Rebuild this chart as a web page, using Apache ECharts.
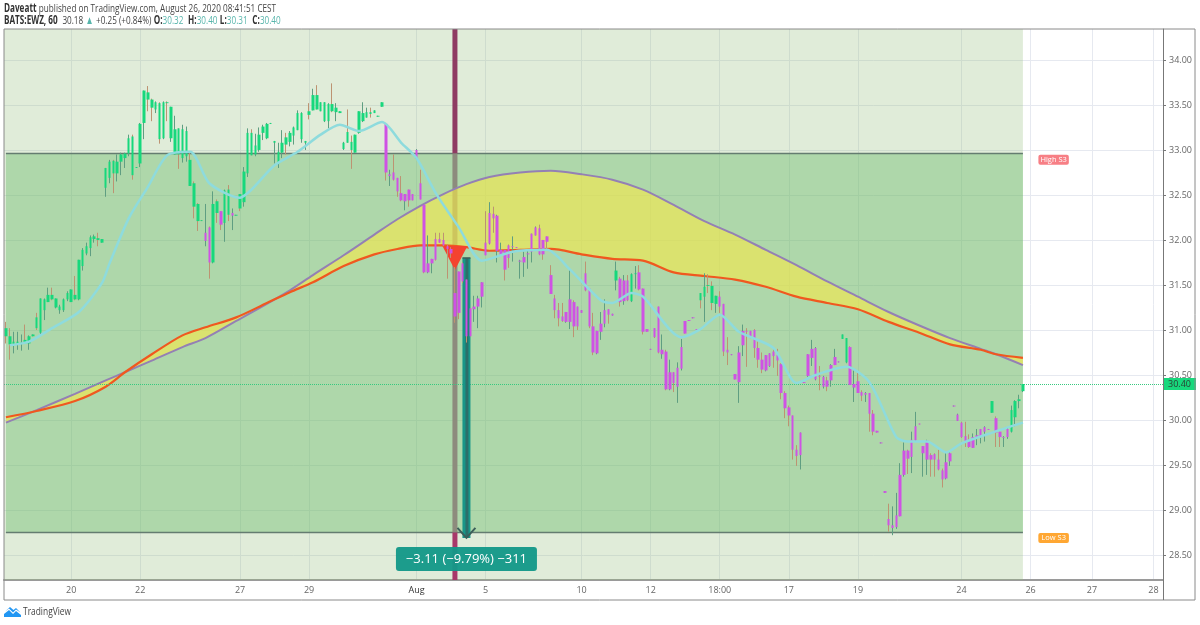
<!DOCTYPE html>
<html>
<head>
<meta charset="utf-8">
<style>
html, body { margin: 0; padding: 0; background: #fff; }
#main { width: 1200px; height: 625px; }
</style>
<script src="https://cdn.jsdelivr.net/npm/echarts@6/dist/echarts.min.js"></script>
</head>
<body>
<div id="main"></div>
<script>
// each row: open, close, low, high (a close under the open gets the tan wick)
var bars = [
[31.02,30.93,30.85,31.09],[30.93,30.84,30.67,31.02],[30.84,30.87,30.74,30.98],[30.84,30.87,30.78,30.98],[30.85,30.86,30.77,30.95],
[30.89,30.85,30.85,31.06],[30.85,30.93,30.78,30.94],[30.93,30.95,30.93,30.95],[31.14,31.02,31.0,31.19],[30.97,31.35,30.95,31.35],
[31.22,31.34,31.11,31.35],[31.31,31.39,31.31,31.47],[31.39,31.34,31.33,31.47],[31.25,31.35,31.24,31.35],[31.22,31.26,31.18,31.28],
[31.22,31.34,31.2,31.35],[31.34,31.41,31.32,31.43],[31.31,31.45,31.31,31.45],[31.39,31.34,31.33,31.6],[31.34,31.78,31.33,31.78],
[31.71,31.89,31.66,31.91],[31.85,31.93,31.83,31.97],[31.91,32.03,31.82,32.05],[32.01,32.04,31.97,32.06],[32.02,32.0,31.93,32.08],
[31.97,32.01,31.97,32.01],[32.58,32.8,32.48,32.8],[32.69,32.87,32.63,32.89],[32.88,32.74,32.52,32.89],[32.74,32.87,32.65,32.95],
[32.87,32.95,32.72,32.97],[32.91,32.96,32.8,32.97],[32.96,33.13,32.93,33.17],[33.15,32.72,32.67,33.17],[32.8,32.81,32.8,32.81],
[32.85,33.29,32.81,33.3],[33.3,33.66,33.12,33.66],[33.64,33.56,33.43,33.71],[33.56,33.47,33.32,33.57],[33.45,33.53,33.41,33.54],
[33.52,33.12,33.07,33.53],[33.13,33.53,33.12,33.54],[33.53,33.52,33.32,33.54],[33.13,33.48,33.09,33.48],[32.95,33.23,32.95,33.38],
[33.24,32.95,32.79,33.24],[32.91,33.23,32.86,33.28],[32.93,33.21,32.87,33.26],[32.89,32.6,32.6,32.97],[32.63,32.37,32.24,32.65],
[32.4,32.21,32.1,32.41],[32.22,32.21,32.21,32.22],[31.99,32.08,31.93,32.4],[32.14,31.75,31.57,32.15],[31.75,32.4,31.74,32.54],
[32.43,32.3,32.19,32.45],[32.32,32.17,32.11,32.32],[32.19,32.55,31.98,32.56],[32.56,32.28,32.21,32.61],[32.27,32.3,32.11,32.35],
[32.28,32.27,32.27,32.28],[32.51,32.35,32.32,32.51],[32.42,32.76,32.37,32.81],[32.74,33.19,32.7,33.24],[33.19,32.94,32.94,33.23],
[32.95,33.05,32.93,33.18],[33.0,33.17,32.98,33.25],[33.19,33.26,33.11,33.28],[33.13,33.29,33.12,33.3],[33.29,33.3,33.29,33.3],
[33.08,33.1,32.85,33.1],[32.85,32.98,32.8,33.08],[32.97,33.08,32.91,33.22],[33.14,33.06,32.95,33.19],[33.09,33.19,33.04,33.21],
[33.16,33.25,33.06,33.26],[33.22,33.41,33.22,33.44],[33.12,33.41,33.08,33.42],[33.08,33.1,33.0,33.1],[33.43,33.39,33.34,33.52],
[33.44,33.61,33.44,33.68],[33.61,33.45,33.45,33.72],[33.43,33.53,33.43,33.53],[33.32,33.53,33.31,33.53],[33.32,33.51,33.24,33.52],
[33.51,33.43,33.42,33.74],[33.42,33.47,33.32,33.52],[33.41,33.43,33.41,33.43],[33.01,33.08,33.0,33.09],[33.2,33.08,33.08,33.45],
[33.09,33.0,32.79,33.16],[32.97,33.17,32.97,33.17],[33.19,33.43,33.18,33.43],[33.32,33.41,33.31,33.53],[33.36,33.42,33.36,33.47],
[33.42,33.4,33.36,33.47],[33.41,33.44,33.41,33.44],[33.37,33.38,33.37,33.38],[33.48,33.53,33.48,33.53],[33.29,32.75,32.66,33.3],
[32.71,32.73,32.6,32.78],[32.75,32.67,32.66,32.95],[32.69,32.54,32.48,32.69],[32.52,32.44,32.43,32.71],[32.43,32.51,32.33,32.51],
[32.56,32.44,32.37,32.56],[32.51,32.44,32.44,32.51],[32.9,33.0,32.89,33.01],[32.63,32.45,32.45,32.78],[32.39,31.64,31.63,32.39],
[31.64,31.74,31.63,32.05],[31.74,31.79,31.63,31.79],[32.01,31.78,31.77,32.08],[32.01,31.97,31.97,32.08],[32.0,31.94,31.93,32.08],
[31.93,31.9,31.57,31.95],[31.9,31.85,31.8,31.92],[31.41,31.15,31.08,31.7],[31.65,31.19,31.12,31.65],[31.74,31.54,31.52,31.75],
[31.56,30.93,30.86,31.56],[31.24,30.93,30.93,31.24],[31.23,31.26,31.09,31.38],[31.26,31.35,31.02,31.38],[31.37,31.53,31.25,31.53],
[31.97,31.83,31.83,32.32],[31.96,32.3,31.95,32.42],[32.29,32.24,32.08,32.37],[31.88,32.27,31.75,32.28],[31.83,31.89,31.83,31.97],
[31.89,31.67,31.55,31.89],[31.94,31.8,31.69,31.95],[31.92,31.93,31.76,32.04],[31.92,31.91,31.91,31.92],[31.76,31.77,31.57,31.78],
[31.75,31.81,31.59,31.87],[31.84,31.85,31.68,31.89],[31.87,32.07,31.75,32.07],[32.05,32.14,32.05,32.15],[32.13,31.84,31.83,32.17],
[32.0,31.84,31.78,32.0],[32.04,31.98,31.89,32.04],[31.61,31.4,31.4,31.72],[31.35,31.22,31.13,31.39],[31.22,31.13,31.04,31.3],
[31.15,31.1,31.09,31.3],[31.09,31.2,31.08,31.2],[31.09,31.34,31.01,31.67],[31.31,31.04,30.92,31.33],[31.26,31.04,31.0,31.26],
[31.19,31.22,31.19,31.22],[31.63,31.44,31.43,31.76],[31.46,31.04,31.02,31.46],[31.04,30.75,30.72,31.19],[30.74,30.99,30.73,30.99],
[30.98,31.07,30.89,31.2],[31.07,31.22,31.03,31.34],[31.23,31.17,31.07,31.23],[31.16,31.18,31.16,31.18],[31.55,31.66,31.44,31.76],
[31.57,31.31,31.26,31.59],[31.32,31.55,31.28,31.61],[31.55,31.33,31.32,31.61],[31.32,31.62,31.31,31.63],[31.62,31.63,31.46,31.71],
[31.64,31.45,31.44,31.72],[31.46,30.98,30.95,31.46],[31.01,30.98,30.98,31.01],[30.78,30.79,30.78,30.79],[31.02,30.92,30.91,31.02],
[31.26,30.75,30.74,31.26],[30.73,30.78,30.68,30.95],[30.76,30.34,30.33,30.78],[30.34,30.53,30.33,30.67],[30.53,30.41,30.31,30.53],
[30.37,30.58,30.19,30.64],[30.57,30.81,30.55,30.9],[31.1,30.96,30.96,31.1],[31.11,31.1,31.1,31.11],[31.13,31.14,31.13,31.14],
[31.01,31.0,31.0,31.01],[31.41,31.33,31.24,31.41],[31.37,31.48,31.09,31.63],[31.5,31.49,31.41,31.62],[31.49,31.3,31.22,31.54],
[31.29,31.38,31.19,31.38],[31.37,31.26,31.19,31.43],[31.29,30.76,30.71,31.29],[30.78,30.75,30.61,30.92],[30.72,30.73,30.72,30.73],
[30.51,30.45,30.45,30.51],[30.42,30.75,30.19,30.82],[30.83,30.99,30.71,31.06],[30.99,30.98,30.59,31.02],[30.91,30.99,30.91,30.99],
[31.0,30.8,30.69,31.01],[30.8,30.67,30.58,30.87],[30.67,30.56,30.52,30.75],[30.55,30.72,30.54,30.72],[30.6,30.74,30.59,30.74],
[30.76,30.71,30.58,30.81],[30.72,30.66,30.49,30.79],[30.62,30.3,30.23,30.63],[30.3,30.13,30.02,30.32],[30.14,30.05,29.93,30.16],
[30.05,29.67,29.56,30.05],[29.67,29.6,29.49,29.72],[29.61,29.86,29.45,29.86],[30.42,30.41,30.41,30.42],[30.49,30.73,30.48,30.73],
[30.69,30.79,30.6,30.89],[30.45,30.8,30.44,30.81],[30.49,30.48,30.33,30.6],[30.37,30.48,30.35,30.49],[30.44,30.37,30.32,30.48],
[30.44,30.61,30.37,30.62],[30.61,30.7,30.61,30.79],[30.64,30.65,30.64,30.65],[30.9,30.95,30.9,30.95],[30.64,30.91,30.63,30.91],
[30.81,30.39,30.39,30.82],[30.36,30.4,30.2,30.55],[30.43,30.3,30.3,30.53],[30.31,30.27,30.21,30.33],[30.28,30.3,30.2,30.31],
[30.3,30.07,29.87,30.3],[30.07,29.87,29.83,30.11],[29.88,29.86,29.86,29.88],[29.74,29.75,29.74,29.75],[29.19,29.21,29.19,29.21],
[28.9,28.83,28.76,29.07],[28.8,28.83,28.72,29.04],[28.81,28.94,28.79,29.19],[28.93,29.39,28.93,29.52],[29.39,29.66,29.37,29.75],
[29.66,29.57,29.4,29.67],[29.59,29.78,29.41,29.87],[29.77,29.93,29.76,30.09],[29.96,29.95,29.95,29.96],[29.63,29.71,29.37,29.71],
[29.56,29.77,29.39,29.78],[29.61,29.56,29.37,29.63],[29.62,29.56,29.37,29.63],[29.56,29.45,29.44,29.67],[29.44,29.34,29.25,29.46],
[29.35,29.53,29.34,29.65],[29.54,29.63,29.49,29.64],[30.15,30.16,30.15,30.16],[29.99,30.06,29.99,30.07],[29.97,29.81,29.8,29.98],
[29.82,29.76,29.7,29.98],[29.78,29.7,29.69,29.84],[29.69,29.81,29.69,29.85],[29.8,29.83,29.72,29.9],[29.81,29.9,29.74,29.9],
[29.87,29.92,29.76,29.93],[29.9,29.89,29.89,29.9],[30.08,30.21,30.08,30.21],[30.02,29.86,29.7,30.04],[29.87,29.81,29.7,29.87],
[29.8,29.81,29.7,29.82],[29.81,29.9,29.79,29.91],[29.87,30.11,29.86,30.16],[30.03,30.21,29.93,30.22],[30.21,30.23,30.13,30.28],
[30.32,30.4,30.31,30.4]
];
// bars drawn magenta, everything else is green
var magentaBars = [52,53,56,59];
for (var m = 99; m <= 265; m++) {
	if ([159,163,164,181,182,183,184,185,218,219,257,262,263,264,265].indexOf(m) < 0) magentaBars.push(m);
}

var slotCount = 302;
var tickSlots = [17,35,61,79,107,125,150,168,186,204,222,249,267,283,299];
var tickTexts = ['20','22','27','29','Aug','5','10','12','18:00','17','19','24','26','27','28'];
var priceTicks = [28.5,29,29.5,30,30.5,31,31.5,32,32.5,33,33.5,34];

// the two slow curves, sampled at curveSlots
var curveSlots = [0,8,18,26,31,38,46,52,60,68,74,80,88,96,102,108,114,120,126,134,142,150,158,166,174,182,190,198,206,214,222,230,238,246,254,258,265];
var purpleCurve = [29.97,30.11,30.29,30.44,30.53,30.66,30.81,30.91,31.10,31.29,31.44,31.61,31.83,32.06,32.23,32.38,32.51,32.62,32.70,32.75,32.77,32.73,32.67,32.56,32.39,32.21,32.06,31.89,31.72,31.54,31.37,31.20,31.05,30.91,30.79,30.73,30.61];
var orangeCurve = [30.03,30.10,30.21,30.37,30.53,30.73,30.94,31.03,31.14,31.30,31.42,31.53,31.71,31.84,31.90,31.94,31.94,31.92,31.88,31.89,31.90,31.84,31.79,31.77,31.64,31.60,31.56,31.48,31.37,31.30,31.23,31.09,30.97,30.84,30.78,30.73,30.69];

var maSlots = [1,6,12,19,25,27,32,37,42,48,53,61,64,70,76,82,87,92,98,103,107,112,118,124,132,141,147,155,158,163,166,176,181,186,191,200,206,211,219,225,232,235,240,245,249,257,265];
var maLine = [30.83,30.87,31.02,31.20,31.52,31.74,32.24,32.59,32.94,32.98,32.63,32.47,32.56,32.83,32.98,33.17,33.28,33.21,33.31,33.08,32.91,32.52,32.14,31.77,31.87,31.89,31.67,31.33,31.30,31.41,31.37,30.92,31.01,31.17,30.98,30.80,30.41,30.50,30.59,30.42,29.81,29.76,29.76,29.64,29.74,29.86,29.97];

var highS3 = 32.96;
var lowS3 = 28.75;
var lastPrice = 30.40;
var lastSlot = 265;
var signalSlot = 117;
var signalPrice = 31.80;
var arrowSlot = 120;
var arrowFrom = 31.80;
var arrowTo = 28.69;
var measureText = '\u22123.11 (\u22129.79%) \u2212311';
var measurePrice = 28.456;
var levelLabelSlot = 273;
var highLabelPrice = 32.89;
var lowLabelPrice = 28.69;
var priceMin = 28.222;
var priceMax = 34.344;

var categories = [];
for (var i = 0; i < slotCount; i++) {
	var at = tickSlots.indexOf(i);
	categories.push(at >= 0 ? tickTexts[at] : '');
}
function isTick(index) {
	return tickSlots.indexOf(index) >= 0;
}
function pairUp(slots, values) {
	return slots.map(function(s, k) { return [s, values[k]]; });
}

var wickData = bars.map(function(b) { return b; });
var bodyData = bars.map(function(b, k) {
	var col = magentaBars.indexOf(k) >= 0 ? '#cf52e4' : '#17d87c';
	return {
		value: [b[0], b[1], Math.min(b[0], b[1]), Math.max(b[0], b[1])],
		itemStyle: { color: col, color0: col, borderColor: col, borderColor0: col }
	};
});

function renderPriceGrid(params, api) {
	var cs = params.coordSys;
	return {
		type: 'group',
		children: priceTicks.map(function(p) {
			var y = Math.round(api.coord([0, p])[1]) + 0.5;
			return { type: 'line', shape: { x1: cs.x, y1: y, x2: cs.x + cs.width, y2: y }, style: { stroke: '#e6e9f0', lineWidth: 1 } };
		})
	};
}

function renderZones(params, api) {
	var cs = params.coordSys;
	var x0 = api.coord([0, highS3])[0];
	var x1 = api.coord([lastSlot, highS3])[0];
	var yH = api.coord([0, highS3])[1];
	var yL = api.coord([0, lowS3])[1];
	return {
		type: 'group',
		children: [
			{ type: 'rect', shape: { x: cs.x, y: cs.y, width: x1 - cs.x, height: cs.height }, style: { fill: 'rgba(152,192,128,0.3)' } },
			{ type: 'rect', shape: { x: x0, y: yH, width: x1 - x0, height: yL - yH }, style: { fill: 'rgba(101,186,99,0.4)' } },
			{ type: 'line', shape: { x1: x0, y1: yH, x2: x1, y2: yH }, style: { stroke: '#647c70', lineWidth: 1.5 } },
			{ type: 'line', shape: { x1: x0, y1: yL, x2: x1, y2: yL }, style: { stroke: '#647c70', lineWidth: 1.5 } }
		]
	};
}

function renderSignalBar(params, api) {
	var cs = params.coordSys;
	var x = api.coord([signalSlot, highS3])[0];
	var yH = api.coord([0, highS3])[1];
	var yL = api.coord([0, lowS3])[1];
	var w = 5;
	return {
		type: 'group',
		children: [
			{ type: 'rect', shape: { x: x - w / 2, y: cs.y, width: w, height: yH - cs.y }, style: { fill: '#8f3b63' } },
			{ type: 'rect', shape: { x: x - w / 2, y: yH, width: w, height: yL - yH }, style: { fill: '#8d8b7d' } },
			{ type: 'rect', shape: { x: x - w / 2, y: yL, width: w, height: cs.y + cs.height - yL }, style: { fill: '#a8386a' } }
		]
	};
}

function renderBand(params, api) {
	var pts = [];
	var k;
	for (k = 0; k < curveSlots.length; k++) pts.push(api.coord([curveSlots[k], purpleCurve[k]]));
	for (k = curveSlots.length - 1; k >= 0; k--) pts.push(api.coord([curveSlots[k], orangeCurve[k]]));
	return { type: 'polygon', shape: { points: pts }, style: { fill: 'rgba(246,233,75,0.62)' } };
}

function renderArrow(params, api) {
	var top = api.coord([arrowSlot, arrowFrom]);
	var tip = api.coord([arrowSlot, arrowTo]);
	var w = 8;
	return {
		type: 'group',
		children: [
			{ type: 'rect', shape: { x: top[0] - w / 2, y: top[1], width: w, height: tip[1] - top[1] }, style: { fill: '#189688' } },
			{ type: 'line', shape: { x1: top[0] + 0.5, y1: top[1], x2: top[0] + 0.5, y2: tip[1] }, style: { stroke: '#2c6f6a', lineWidth: 3 } },
			{ type: 'line', shape: { x1: top[0] - w / 2, y1: top[1], x2: top[0] + w / 2, y2: top[1] }, style: { stroke: '#3c5f5a', lineWidth: 1.5 } },
			{ type: 'polyline', shape: { points: [[tip[0] - 9, tip[1] - 10], [tip[0], tip[1]], [tip[0] + 9, tip[1] - 10]] }, style: { stroke: '#3c5f5a', fill: null, lineWidth: 2 } }
		]
	};
}

var myChart = echarts.init(document.getElementById('main'));

myChart.setOption({
	animation: false,
	backgroundColor: '#fff',
	textStyle: { fontFamily: '"Open Sans", "Noto Sans", sans-serif' },
	grid: { left: 4, right: 37, top: 29, bottom: 45 },
	xAxis: {
		type: 'category',
		data: categories,
		boundaryGap: true,
		axisLine: { lineStyle: { color: '#9a9a9a', width: 2 } },
		axisTick: { interval: isTick, alignWithLabel: true, length: 3, lineStyle: { color: '#777' } },
		axisLabel: {
			interval: isTick,
			fontSize: 9,
			margin: 6,
			color: function(v) { return v === 'Aug' ? '#333' : '#666'; }
		},
		splitLine: { show: true, interval: isTick, alignWithLabel: true, lineStyle: { color: '#e6e9f0', width: 1 } }
	},
	yAxis: {
		type: 'value',
		position: 'right',
		min: priceMin,
		max: priceMax,
		scale: true,
		axisLine: { show: true, lineStyle: { color: '#777' } },
		axisTick: { show: true, length: 3, customValues: priceTicks, lineStyle: { color: '#777' } },
		axisLabel: {
			fontSize: 9,
			margin: 6,
			color: '#666',
			customValues: priceTicks,
			formatter: function(v) { return v.toFixed(2); }
		},
		splitLine: { show: false }
	},
	series: [
		{ type: 'custom', name: 'priceGrid', data: [0], z: 0, silent: true, clip: false, renderItem: renderPriceGrid },
		{ type: 'custom', name: 'zones', data: [0], z: 1, silent: true, clip: false, renderItem: renderZones },
		{ type: 'custom', name: 'signal', data: [0], z: 2, silent: true, clip: false, renderItem: renderSignalBar },
		{ type: 'custom', name: 'band', data: [0], z: 3, silent: true, renderItem: renderBand },
		{
			type: 'line', name: 'purple', data: pairUp(curveSlots, purpleCurve), z: 4, smooth: 0.3,
			showSymbol: false, silent: true, lineStyle: { color: '#9480b4', width: 2 }
		},
		{
			type: 'line', name: 'orange', data: pairUp(curveSlots, orangeCurve), z: 4, smooth: 0.3,
			showSymbol: false, silent: true, lineStyle: { color: '#f0581f', width: 2.2 }
		},
		{ type: 'custom', name: 'arrow', data: [0], z: 5, silent: true, renderItem: renderArrow },
		{
			type: 'candlestick', name: 'wicks', data: wickData, z: 6, barWidth: 1, silent: true,
			itemStyle: { color: '#5f9e82', color0: '#bd9372', borderColor: '#5f9e82', borderColor0: '#bd9372', borderWidth: 1 },
			markLine: {
				silent: true,
				symbol: 'none',
				data: [{ yAxis: lastPrice }],
				lineStyle: { color: '#37c97f', type: 'dotted', width: 1 },
				label: {
					position: 'end',
					distance: 0,
					formatter: function() { return lastPrice.toFixed(2); },
					backgroundColor: '#17d87c',
					color: '#2a4034',
					fontSize: 9,
					lineHeight: 10,
					padding: [1, 5]
				}
			}
		},
		{
			type: 'candlestick', name: 'bodies', data: bodyData, z: 7, barWidth: 3, silent: true,
			itemStyle: { borderWidth: 0 }
		},
		{
			type: 'line', name: 'ma', data: pairUp(maSlots, maLine), z: 8, smooth: 0.25,
			showSymbol: false, silent: true, lineStyle: { color: '#8edbdd', width: 2.5 }
		},
		{
			type: 'scatter', name: 'marks', data: [], z: 9, silent: true,
			markPoint: {
				silent: true,
				data: [
					{
						coord: [signalSlot, signalPrice], symbol: 'triangle', symbolRotate: 180, symbolSize: [25, 24],
						itemStyle: { color: '#f4432f' }, label: { show: false }
					},
					{
						coord: [levelLabelSlot, highLabelPrice], symbolSize: 0,
						label: { show: true, position: 'inside', formatter: 'High S3', backgroundColor: '#f77f85', color: '#fff', fontSize: 7.5, padding: [1, 2], borderRadius: 2 }
					},
					{
						coord: [levelLabelSlot, lowLabelPrice], symbolSize: 0,
						label: { show: true, position: 'inside', formatter: 'Low S3', backgroundColor: '#ffa733', color: '#fff', fontSize: 7.5, padding: [1, 3], borderRadius: 2 }
					},
					{
						coord: [arrowSlot, measurePrice], symbolSize: 0,
						label: {
							show: true, position: 'inside', formatter: measureText, backgroundColor: 'rgba(20,152,136,0.96)', color: '#fff',
							fontSize: 13, width: 141, height: 24, lineHeight: 24, align: 'center', verticalAlign: 'middle', borderRadius: 3
						}
					}
				]
			}
		}
	],
	graphic: [
		{ type: 'rect', silent: true, z: 20, shape: { x: 4, y: 29, width: 1191, height: 571 }, style: { fill: null, stroke: '#8a8a8a', lineWidth: 1 } },
		{ type: 'line', silent: true, z: 20, shape: { x1: 1163.5, y1: 29, x2: 1163.5, y2: 600 }, style: { stroke: '#777', lineWidth: 1 } },
		{
			type: 'text', silent: true, z: 20, x: 4, y: 2.5, scaleX: 0.71,
			style: {
				text: '{b|Daveatt} {n|published on TradingView.com, August 26, 2020 08:41:51 CEST}',
				rich: {
					b: { fontFamily: 'Open Sans', fontWeight: 'bold', fontSize: 11.5, fill: '#333' },
					n: { fontFamily: 'Open Sans', fontSize: 11.5, fill: '#444' }
				}
			}
		},
		{
			type: 'text', silent: true, z: 20, x: 4, y: 14.5, scaleX: 0.71,
			style: {
				text: '{b|BATS:EWZ, 60}  {n|30.18} {t|\u25B2} {n|+0.25 (+0.84%)} {b|O:}{t|30.32}  {b|H:}{t|30.40} {b|L:}{t|30.31}  {b|C:}{t|30.40}',
				rich: {
					b: { fontFamily: 'Open Sans', fontWeight: 'bold', fontSize: 11.5, fill: '#333' },
					n: { fontFamily: 'Open Sans', fontSize: 11.5, fill: '#444' },
					t: { fontFamily: 'Open Sans', fontSize: 11.5, fill: '#57b5ab' }
				}
			}
		},
		{ type: 'polygon', silent: true, z: 20, shape: { points: [[4, 617], [4, 614], [9, 610], [13, 614], [16, 611], [21, 615], [21, 617]] }, style: { fill: '#2196f3' } },
		{ type: 'polygon', silent: true, z: 20, shape: { points: [[5, 611.5], [10, 607], [13.5, 610], [16, 608], [20.5, 612.5], [16, 609.5], [13, 612.5], [9, 608.5]] }, style: { fill: '#2196f3' } },
		{ type: 'text', silent: true, z: 20, x: 23, y: 607, scaleX: 0.8, style: { text: 'TradingView', fontFamily: 'Open Sans', fontSize: 10.5, fill: '#444' } }
	]
});
</script>
</body>
</html>
